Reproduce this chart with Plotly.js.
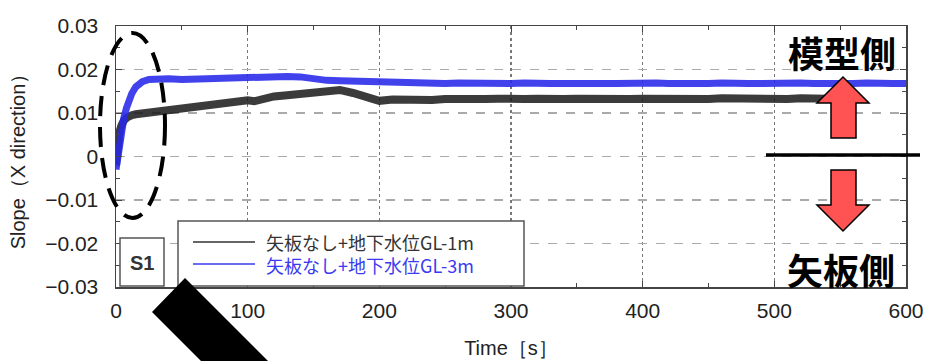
<!DOCTYPE html>
<html>
<head>
<meta charset="utf-8">
<script src="https://cdn.plot.ly/plotly-3.0.1.min.js"></script>
<style>html,body{margin:0;padding:0;background:#fff;}#chart{width:928px;height:361px;}</style>
</head>
<body>
<div id="chart"></div>
<script>
// ---- data ----
const seriesNames = ["矢板なし+地下水位GL-1m", "矢板なし+地下水位GL-3m"];
const timeGL1 = [0,1,2,3,4,5,6,8,10,12,15,20,25,30,40,50,60,70,80,90,100,105,110,120,130,140,150,160,170,180,190,200,210,220,230,240,250,260,270,280,290,300,310,320,330,340,350,360,370,380,390,400,410,420,430,440,450,460,470,480,490,500,510,520,530,540];
const slopeGL1 = [-0.002,0.002,0.0045,0.006,0.007,0.0078,0.0083,0.0089,0.0093,0.0095,0.0097,0.0099,0.0100,0.0101,0.0104,0.0108,0.0112,0.0117,0.0121,0.0126,0.0129,0.0127,0.0131,0.0138,0.0141,0.0144,0.0147,0.0152,0.0153,0.0146,0.0136,0.0128,0.0131,0.0130,0.0131,0.0130,0.0132,0.0131,0.0130,0.0132,0.0133,0.0131,0.0132,0.0133,0.0131,0.0132,0.0133,0.0132,0.0131,0.0133,0.0132,0.0133,0.0132,0.0134,0.0132,0.0133,0.0132,0.0134,0.0133,0.0132,0.0134,0.0133,0.0132,0.0134,0.0133,0.0133];
const timeGL3 = [0,1,2,3,4,5,6,8,10,12,15,20,25,30,40,50,60,70,80,90,100,110,120,130,140,150,160,170,180,190,200,210,220,230,240,250,260,270,280,290,300,310,320,330,340,350,360,370,380,390,400,410,420,430,440,450,460,470,480,490,500,510,520,530,540,550,560,570,580,590,600];
const slopeGL3 = [-0.003,-0.0005,0.002,0.0042,0.006,0.0075,0.0089,0.0112,0.013,0.0145,0.016,0.0172,0.0177,0.0178,0.0179,0.0177,0.0178,0.0177,0.0179,0.0181,0.0183,0.0184,0.0185,0.0184,0.0183,0.0178,0.0175,0.0174,0.0173,0.0171,0.0170,0.0169,0.0168,0.0169,0.0167,0.0168,0.0169,0.0168,0.0167,0.0168,0.0168,0.0169,0.0167,0.0168,0.0168,0.0167,0.0169,0.0168,0.0168,0.0167,0.0168,0.0169,0.0168,0.0167,0.0168,0.0168,0.0169,0.0167,0.0168,0.0168,0.0167,0.0168,0.0169,0.0168,0.0167,0.0168,0.0168,0.0169,0.0167,0.0168,0.0168];
const xTickVals = [0,100,200,300,400,500,600];
const yTickVals = [-0.03,-0.02,-0.01,0,0.01,0.02,0.03];
const yTickText = ["−0.03","−0.02","−0.01","0","0.01","0.02","0.03"];
const boxLabel = "S1";
const upLabel = "模型側";
const downLabel = "矢板側";
const xTitle = "Time［s］";
const yTitle = "Slope（X direction）";

// ---- layout helpers (pixel -> paper) ----
const M = {l:116, r:22, t:26, b:74};
const W = 928, H = 361;
const PW = W - M.l - M.r, PH = H - M.t - M.b;
const px = x => (x - M.l) / PW;
const py = y => (H - M.b - y) / PH;
const colK = "rgba(25,25,25,0.85)";
const colB = "rgba(40,40,235,0.88)";
const legK = "#333";
const legB = "#3a3af0";
const cjk = "Noto Sans CJK JP, sans-serif";
const sans = "Liberation Sans, Arial, sans-serif";

const traces = [
  {x: timeGL1, y: slopeGL1, type: "scatter", mode: "lines", name: seriesNames[0],
   line: {color: colK, width: 8}, showlegend: false},
  {x: timeGL3, y: slopeGL3, type: "scatter", mode: "lines", name: seriesNames[1],
   line: {color: colB, width: 7}, showlegend: false}
];

function poly(pts){ return "M" + pts.map(p => px(p[0]) + "," + py(p[1])).join(" L") + " Z"; }

const shapes = [
  // legend box
  {type:"rect", xref:"paper", yref:"paper", x0:px(178), x1:px(524), y0:py(286), y1:py(221),
   fillcolor:"#fff", line:{color:"#555", width:1.5}, layer:"above"},
  {type:"line", xref:"paper", yref:"paper", x0:px(193), x1:px(255), y0:py(242), y1:py(242),
   line:{color:legK, width:1.5}, layer:"above"},
  {type:"line", xref:"paper", yref:"paper", x0:px(193), x1:px(255), y0:py(264), y1:py(264),
   line:{color:legB, width:1.5}, layer:"above"},
  // S1 box
  {type:"rect", xref:"paper", yref:"paper", x0:px(120), x1:px(164), y0:py(286), y1:py(238),
   fillcolor:"#fff", line:{color:"#555", width:1.5}, layer:"above"},
  // dashed ellipse
  {type:"circle", xref:"paper", yref:"paper", x0:px(100), x1:px(165), y0:py(218), y1:py(33),
   line:{color:"#000", width:4, dash:"20px,11px"}, layer:"above"},
  // divider line
  {type:"line", xref:"paper", yref:"paper", x0:px(766), x1:px(920), y0:py(155), y1:py(155),
   line:{color:"#000", width:3.5}, layer:"above"},
  // up arrow
  {type:"path", xref:"paper", yref:"paper", layer:"above",
   path: poly([[843,77],[869,103],[856,103],[856,138],[831,138],[831,103],[817,103]]),
   fillcolor:"#ff5252", line:{color:"#000", width:1.5}},
  // down arrow
  {type:"path", xref:"paper", yref:"paper", layer:"above",
   path: poly([[831,170],[856,170],[856,205],[869,205],[843,231],[817,205],[831,205]]),
   fillcolor:"#ff5252", line:{color:"#000", width:1.5}},
  // black diagonal bar
  {type:"path", xref:"paper", yref:"paper", layer:"above",
   path: poly([[185,278],[290,383],[257,417],[152,312]]),
   fillcolor:"#000", line:{color:"#000", width:0}}
];

const legendText = '<span style="color:' + legK + '">' + seriesNames[0] + '</span><br>' +
                   '<span style="color:' + legB + '">' + seriesNames[1] + '</span>';

const annotations = [
  {xref:"paper", yref:"paper", x:px(264), y:py(253), xanchor:"left", yanchor:"middle", align:"left",
   showarrow:false, text: legendText, font:{family:cjk, size:18, color:legK}},
  {xref:"paper", yref:"paper", x:px(142), y:py(263), xanchor:"center", yanchor:"middle", showarrow:false,
   text: "<b>"+boxLabel+"</b>", font:{family:sans, size:20, color:"#333"}},
  {xref:"paper", yref:"paper", x:px(842), y:py(52), xanchor:"center", yanchor:"middle", showarrow:false,
   text: "<b>"+upLabel+"</b>", font:{family:cjk, size:36, color:"#000"}},
  {xref:"paper", yref:"paper", x:px(841), y:py(269), xanchor:"center", yanchor:"middle", showarrow:false,
   text: "<b>"+downLabel+"</b>", font:{family:cjk, size:36, color:"#000"}}
];

const axisCommon = {
  showline:true, linecolor:"#444", linewidth:1.5, mirror:"ticks",
  ticks:"inside", ticklen:6, tickcolor:"#444", tickwidth:1,
  zeroline:false, showgrid:true, gridwidth:1.5,
  tickfont:{family:sans, size:21, color:"#222"}
};

const layout = {
  width: W, height: H,
  margin: M,
  paper_bgcolor:"#fff", plot_bgcolor:"#fff",
  showlegend:false,
  xaxis: Object.assign({}, axisCommon, {
    range:[0,600], tickvals:xTickVals, ticktext:xTickVals.map(String),
    gridcolor:"#777", griddash:"dot",
    ticklabelstandoff: 4,
    minor:{dtick:50, tick0:0, ticks:"inside", ticklen:4, tickcolor:"#444", showgrid:false},
    title:{text:xTitle, font:{family:sans, size:20, color:"#222"}, standoff:20}
  }),
  yaxis: Object.assign({}, axisCommon, {
    range:[-0.03,0.03], tickvals:yTickVals, ticktext:yTickText,
    gridcolor:"#aaa", griddash:"dash",
    ticklabelstandoff: 12,
    minor:{dtick:0.005, tick0:0, ticks:"inside", ticklen:4, tickcolor:"#444", showgrid:false},
    title:{text:yTitle, font:{family:sans, size:20, color:"#222"}, standoff:14}
  }),
  shapes: shapes,
  annotations: annotations
};

Plotly.newPlot("chart", traces, layout, {staticPlot:true, displayModeBar:false});
</script>
</body>
</html>
